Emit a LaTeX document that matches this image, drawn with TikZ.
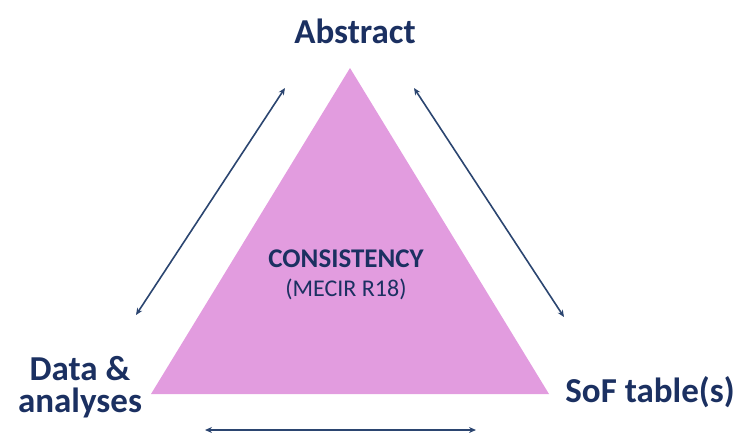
\documentclass[tikz,border=0pt]{standalone}
\usepackage{fontspec}
\setmainfont{Carlito}
\usepackage{tikz}
\usetikzlibrary{arrows.meta}
\definecolor{navy}{HTML}{1B3061}
\definecolor{lineblue}{HTML}{2B4570}
\definecolor{orchid}{HTML}{E29CDF}

\begin{document}
\begin{tikzpicture}[x=1pt,y=-1pt,
  corner/.style={text=navy,font=\fontsize{35}{32}\selectfont\bfseries,anchor=base,align=center},
  link/.style={draw=lineblue,line width=1.6pt,{Stealth[length=7pt,width=6pt]}-{Stealth[length=7pt,width=6pt]}}]
  \useasboundingbox (0,0) rectangle (742,432);
  % triangle
  \coordinate (apex) at (350,68);
  \coordinate (left) at (151,394);
  \coordinate (right) at (549,394);
  \fill[orchid] (apex) -- (left) -- (right) -- cycle;
  \node[text=navy,font=\fontsize{27}{28}\selectfont\bfseries,anchor=base] (cons) at (346,267) {CONSISTENCY};
  \node[text=navy,font=\fontsize{24}{28}\selectfont,anchor=base] (mecir) at (346,296) {(MECIR R18)};
  % corners
  \node[corner] (abstract) at (355,43) {Abstract};
  \node[corner] (data) at (80,412) {Data \&\\analyses};
  \node[corner] (sof) at (650,402) {SoF table(s)};
  % arrows
  \coordinate (l1) at (285,88);
  \coordinate (l2) at (136,315);
  \coordinate (r1) at (414,88);
  \coordinate (r2) at (564,317);
  \coordinate (b1) at (205,430);
  \coordinate (b2) at (476,430);
  \draw[link] (l1) -- (l2);
  \draw[link] (r1) -- (r2);
  \draw[link] (b1) -- (b2);
\end{tikzpicture}
\end{document}
